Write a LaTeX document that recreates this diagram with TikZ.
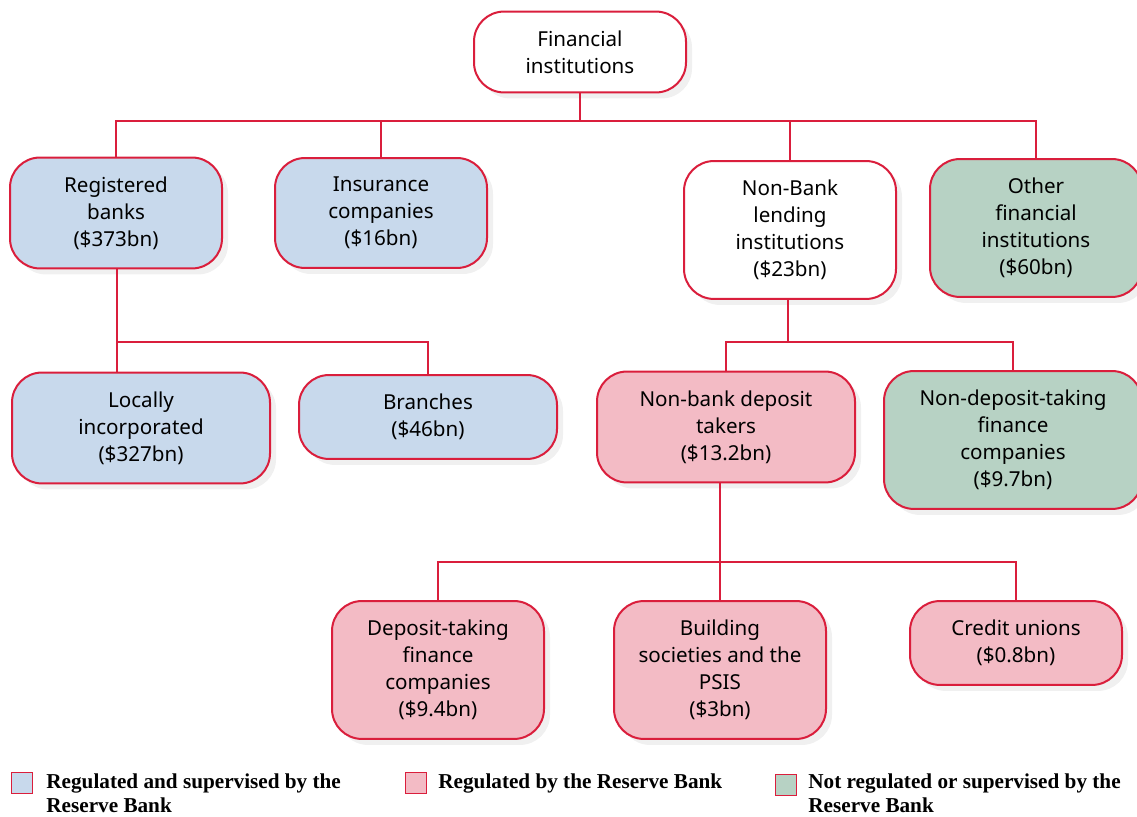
\documentclass[tikz,border=0pt]{standalone}
\usepackage{fontspec}
\setmainfont{Noto Sans}
\newfontfamily\legendfont{Liberation Serif}
\usetikzlibrary{positioning,shadows}
\definecolor{lineColor}{RGB}{218,30,60}
\definecolor{supervisedColor}{RGB}{200,217,236}
\definecolor{regulatedColor}{RGB}{243,187,197}
\definecolor{otherColor}{RGB}{183,210,196}
\tikzset{institution/.style={draw=lineColor, line width=1pt, fill=white, align=center, rounded corners=15pt, minimum width=106pt, inner xsep=2pt, inner ysep=9.5pt, font=\fontsize{10.3}{13.5}\selectfont, drop shadow={opacity=0.12, shadow xshift=3pt, shadow yshift=-3pt}}}
\tikzset{supervised/.style={institution, fill=supervisedColor}}
\tikzset{regulated/.style={institution, fill=regulatedColor}}
\tikzset{unregulated/.style={institution, fill=otherColor}}
\tikzset{wide/.style={minimum width=129pt}}
\tikzset{link/.style={draw=lineColor, line width=1pt}}
\tikzset{legendBox/.style={draw=lineColor, line width=0.8pt, minimum size=10.5pt, inner sep=0pt}}
\tikzset{legendText/.style={font=\legendfont\bfseries\fontsize{10.6}{12.3}\selectfont, align=left, anchor=north west, inner sep=0pt}}

\begin{document}
\begin{tikzpicture}[x=0.5pt, y=-0.5pt]
\useasboundingbox (0,0) rectangle (1137,817);
% Nodes
\node (FinancialInstitutions) [institution] at (580,52) {Financial\\ institutions};

\node (RegisteredBanks) [supervised] at (116,213) {Registered\\ banks\\ (\$373bn)};
\node (InsuranceCompanies) [supervised] at (381,213) {Insurance\\ companies\\ (\$16bn)};
\node (NonBankLending) [institution] at (790,230) {Non-Bank\\ lending\\ institutions\\ (\$23bn)};
\node (OtherInstitutions) [unregulated] at (1036,228) {Other\\ financial\\ institutions\\ (\$60bn)};

\node (LocallyIncorporated) [supervised, wide] at (141,428) {Locally\\ incorporated\\ (\$327bn)};
\node (Branches) [supervised, wide] at (428,417) {Branches\\ (\$46bn)};
\node (DepositTakers) [regulated, wide] at (726,427) {Non-bank deposit\\ takers\\ (\$13.2bn)};
\node (NonDepositTaking) [unregulated, wide] at (1013,440) {Non-deposit-taking\\ finance\\ companies\\ (\$9.7bn)};

\node (DepositTakingFinance) [regulated] at (438,670) {Deposit-taking\\ finance\\ companies\\ (\$9.4bn)};
\node (BuildingSocieties) [regulated] at (720,670) {Building\\ societies and the\\ PSIS\\ (\$3bn)};
\node (CreditUnions) [regulated] at (1016,643) {Credit unions\\ (\$0.8bn)};

\coordinate (topJoin) at (580,121);
\coordinate (banksJoin) at (117,342);
\coordinate (lendingJoin) at (788,342);
\coordinate (takersJoin) at (720,562);

% Connectors
\draw [link] (FinancialInstitutions) -- (topJoin);
\draw [link] (topJoin) -| (RegisteredBanks.north);
\draw [link] (topJoin) -| (InsuranceCompanies.north);
\draw [link] (topJoin) -| (NonBankLending.north);
\draw [link] (topJoin) -| (OtherInstitutions.north);

\draw [link] (banksJoin |- RegisteredBanks.south) -- (banksJoin);
\draw [link] (banksJoin) -- (banksJoin |- LocallyIncorporated.north);
\draw [link] (banksJoin) -| (Branches.north);

\draw [link] (lendingJoin |- NonBankLending.south) -- (lendingJoin);
\draw [link] (lendingJoin) -| (DepositTakers.north);
\draw [link] (lendingJoin) -| (NonDepositTaking.north);

\draw [link] (takersJoin |- DepositTakers.south) -- (takersJoin);
\draw [link] (takersJoin) -| (DepositTakingFinance.north);
\draw [link] (takersJoin) -- (BuildingSocieties.north);
\draw [link] (takersJoin) -| (CreditUnions.north);

% Legend
\node (SupervisedKey) [legendBox, fill=supervisedColor] at (22,783) {};
\node (SupervisedText) [legendText] at (46,773) {Regulated and supervised by the\\ Reserve Bank};
\node (RegulatedKey) [legendBox, fill=regulatedColor] at (416,783) {};
\node (RegulatedText) [legendText] at (438,773) {Regulated by the Reserve Bank};
\node (OtherKey) [legendBox, fill=otherColor] at (786,785) {};
\node (OtherText) [legendText] at (808,773) {Not regulated or supervised by the\\ Reserve Bank};
\end{tikzpicture}
\end{document}
